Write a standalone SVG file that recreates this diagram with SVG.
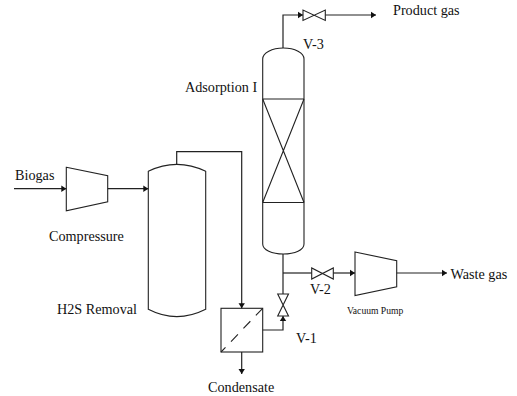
<svg xmlns="http://www.w3.org/2000/svg" width="517" height="396" viewBox="0 0 517 396">
<defs>
<marker id="arrow" markerUnits="userSpaceOnUse" markerWidth="6" markerHeight="8" refX="5" refY="4" orient="auto"><path d="M0,0.8 L5,4 L0,7.2 Z" fill="#111"/></marker>
<style>
.s{fill:none;stroke:#222;stroke-width:1.1}
.p{fill:none;stroke:#222;stroke-width:1.2}
text{font-family:"Liberation Serif","Times New Roman",serif;font-size:14.2px;fill:#111}
</style>
</defs>
<rect width="517" height="396" fill="#fff"/>
<g id="connectors">
<path class="p" d="M14,188.7H66.3" marker-end="url(#arrow)"/>
<path class="p" d="M107.7,188.7H148.3" marker-end="url(#arrow)"/>
<path class="p" d="M176.7,164.3V151.7H241.7V308.3" marker-end="url(#arrow)"/>
<path class="p" d="M241.7,352V374" marker-end="url(#arrow)"/>
<path class="p" d="M262.7,330H283V316" marker-end="url(#arrow)"/>
<path class="p" d="M283,254V294"/>
<path class="p" d="M283,273H311.7"/>
<path class="p" d="M333.3,273H355" marker-end="url(#arrow)"/>
<path class="p" d="M396.7,273H447" marker-end="url(#arrow)"/>
<path class="p" d="M283,48V15H303" marker-end="url(#arrow)"/>
<path class="p" d="M325.3,15H376" marker-end="url(#arrow)"/>
</g>
<g id="compressor"><path class="s" d="M66.3,167.3L107.7,175.7V201.7L66.3,210.7Z"/><text x="49" y="241">Compressure</text></g>
<g id="biogas"><text x="15" y="180">Biogas</text></g>
<g id="h2s-removal"><path class="s" d="M148.3,171.3Q176.7,157.5 205.7,171.3V309.3Q176.7,324 148.3,309.3Z"/><text x="57" y="314">H2S Removal</text></g>
<g id="adsorption"><path class="s" d="M262.7,59C262.7,53 272,48 283.3,48C295,48 304,53 304,59V244C304,250 295,254 283.3,254C272,254 262.7,250 262.7,244Z"/><path class="s" d="M262.7,99H304M262.7,202.5H304M262.7,99L304,202.5M304,99L262.7,202.5"/><text x="185" y="92">Adsorption I</text></g>
<g id="condenser"><rect class="s" x="221" y="308.3" width="41.7" height="43.7"/><path class="s" stroke-dasharray="10 8" stroke-dashoffset="3.5" d="M221,352L262.7,308.3"/><text x="208" y="392">Condensate</text></g>
<g id="v-1"><path class="s" d="M277.7,294H288.5L277.7,316H288.5Z"/><text x="296" y="342.5">V-1</text></g>
<g id="v-2"><path class="s" d="M311.7,268V279L333.3,268V279Z"/><text x="310" y="293.5">V-2</text></g>
<g id="v-3"><path class="s" d="M303,10V20.5L325.3,10V20.5Z"/><text x="303" y="49">V-3</text></g>
<g id="vacuum-pump"><path class="s" d="M355,252L396.7,260.7V286.7L355,295.5Z"/><text x="347" y="314" style="font-size:9.6px">Vacuum Pump</text></g>
<g id="product-gas"><text x="393" y="14.5">Product gas</text></g>
<g id="waste-gas"><text x="450.5" y="279.3">Waste gas</text></g>
</svg>
